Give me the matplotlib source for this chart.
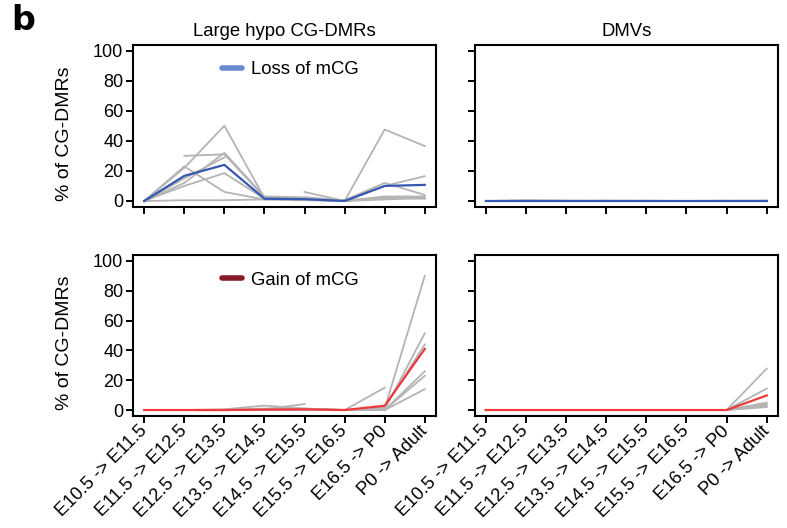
import numpy as np
import matplotlib
matplotlib.use("Agg")
import matplotlib.pyplot as plt
from matplotlib.lines import Line2D

plt.rcParams['font.family'] = ['Liberation Sans', 'DejaVu Sans']

#------------------------------------------------------------------------------
#                   data
#------------------------------------------------------------------------------
stages = ["E10.5 -> E11.5", "E11.5 -> E12.5", "E12.5 -> E13.5", "E13.5 -> E14.5",
          "E14.5 -> E15.5", "E15.5 -> E16.5", "E16.5 -> P0", "P0 -> Adult"]
nan = np.nan

# large hypo CG-DMRs, loss of mCG (grey = individual, blue = mean)
hypo_loss_grey = [
    [0, 22, 50, 2, 2, 0, 47.5, 36.5],
    [nan, 30, 31, 2.5, 1.5, 0.5, 2, 2],
    [0, 12, 32, 3, 2.5, 0.5, 12, 4],
    [0, 23, 6, 1, 1, 0, 3, 3],
    [0, 10, 18.5, 1.5, 1, 0, 10, 16.5],
    [0, 0.5, 0.5, 1, 0.5, 0, 1, 2],
    [0, 15, 29, nan, 6, 0, 2, 1.5],
]
hypo_loss_mean = [0, 16.7, 24, 1.5, 1.2, 0, 10, 10.7]

# large hypo CG-DMRs, gain of mCG
hypo_gain_grey = [
    [0, 0, 0, 0.5, 0.5, 0, 1, 90],
    [0, 0, 0, 1, 1, 0, 0.5, 51.5],
    [0, 0, 0, 0, 0.5, 0, 2, 44],
    [0, 0, 0.5, 3, 1, 0, 15, nan],
    [0, 0, 0, 0.5, 4, nan, 0, 23],
    [0, 0, 0, 0, 0, 0, 0, 26],
    [0, 0, 0, 0, 0, 0, 0, 14],
]
hypo_gain_mean = [0, 0, 0, 0.3, 0.5, 0, 2.9, 41]

# DMVs, loss of mCG
dmv_loss_grey = [
    [0, 0.5, 0.3, 0, 0.2, 0, 0, 0.3],
    [0, 0.2, 0, 0.3, 0, 0, 0.2, 0],
]
dmv_loss_mean = [0, 0, 0, 0, 0, 0, 0, 0]

# DMVs, gain of mCG
dmv_gain_grey = [
    [0, 0, 0, 0, 0, 0, 0, 27.8],
    [0, 0, 0, 0, 0, 0, 0, 14.4],
    [0, 0, 0, 0, 0, 0, 0, 5],
    [0, 0, 0, 0, 0, 0, 0, 4],
    [0, 0, 0, 0, 0, 0, 0, 3],
    [0, 0, 0, 0, 0, 0, 0, 2],
]
dmv_gain_mean = [0, 0, 0, 0, 0, 0, 0, 9.8]

#------------------------------------------------------------------------------
#                   plotting
#------------------------------------------------------------------------------
W, H = 787, 528
fig = plt.figure(figsize=(W / 100, H / 100), dpi=100)

grey = '#b4b4b4'
blue = '#3558b0'
red = '#ee3a3a'

def px_axes(left, top, right, bottom):
    return fig.add_axes([left / W, 1 - bottom / H, (right - left) / W, (bottom - top) / H])

def draw(ax, greys, mean, col, ylabels, xlabels):
    x = np.arange(len(stages))
    for g in greys:
        ax.plot(x, g, color=grey, lw=1.3, zorder=2)
    ax.plot(x, mean, color=col, lw=1.6, zorder=3)
    ax.set_xlim(-0.28, 7.28)
    ax.set_ylim(-4, 104)
    ax.set_xticks(x)
    ax.set_yticks([0, 20, 40, 60, 80, 100])
    ax.tick_params(direction='out', length=5, width=1.4, labelsize=13, pad=2)
    for s in ax.spines.values():
        s.set_linewidth(1.5)
    if xlabels:
        ax.set_xticklabels(stages, rotation=45, ha='right', va='center',
                           rotation_mode='anchor', fontsize=13.2)
        ax.tick_params(axis='x', pad=4)
    else:
        ax.set_xticklabels([])
    if ylabels:
        ax.set_ylabel("% of CG-DMRs", fontsize=14)
        ax.yaxis.set_label_coords(-0.198, 0.452)
    else:
        ax.set_yticklabels([])

ax1 = px_axes(133, 44.5, 436, 207)
ax2 = px_axes(474.5, 44.5, 778, 207)
ax3 = px_axes(133, 255, 436, 416)
ax4 = px_axes(474.5, 255, 778, 416)

draw(ax1, hypo_loss_grey, hypo_loss_mean, blue, True, False)
draw(ax2, dmv_loss_grey, dmv_loss_mean, blue, False, False)
draw(ax3, hypo_gain_grey, hypo_gain_mean, red, True, True)
draw(ax4, dmv_gain_grey, dmv_gain_mean, red, False, True)

ax1.set_title("Large hypo CG-DMRs", fontsize=13.3, pad=6)
ax2.set_title("DMVs", fontsize=13.3, pad=6)

for ax, lab, c in [(ax1, "Loss of mCG", '#6a8bd0'), (ax3, "Gain of mCG", '#8b1a28')]:
    h = Line2D([], [], color=c, lw=4, solid_capstyle='round')
    ax.legend([h], [lab], loc='upper center', bbox_to_anchor=(0.52, 1.0), frameon=False,
              fontsize=13.3, handlelength=1.1, handletextpad=0.5)

fig.text(11 / W, 1 - 21 / H, "b", fontsize=24, fontweight='bold', va='center',
         family='DejaVu Sans')

fig.savefig("out.png", dpi=100)
